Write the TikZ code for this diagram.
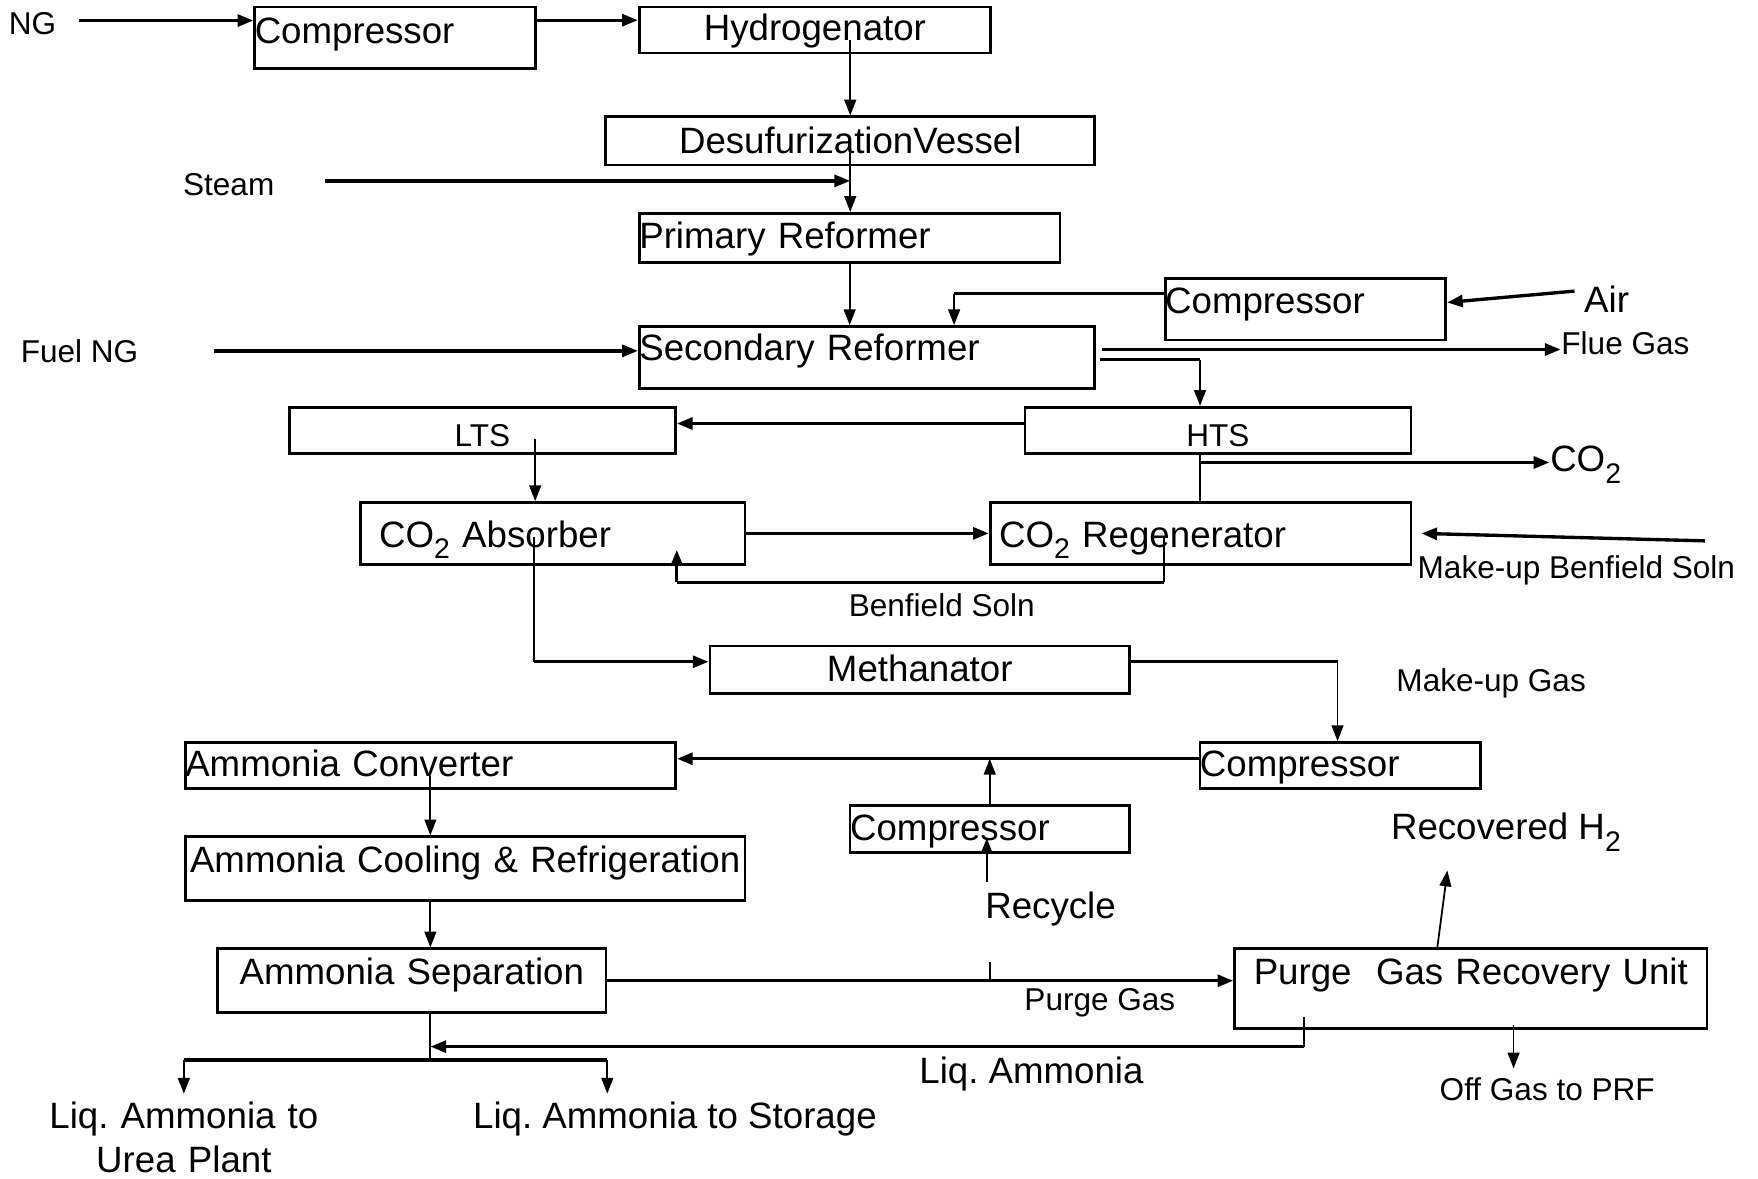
\documentclass[tikz,border=0pt]{standalone}
\usepackage{fontspec}
\setmainfont{Liberation Sans}
\usetikzlibrary{arrows.meta,calc}
\newcommand{\bigf}{\fontsize{9.3}{11.1}\selectfont}
\newcommand{\smf}{\fontsize{8}{9.6}\selectfont}
\newcommand{\subtwo}{\raisebox{-3pt}{\fontsize{7.2}{8}\selectfont 2}}
\frenchspacing
\begin{document}
\begin{tikzpicture}[x=0.01cm,y=-0.01cm,
  box/.style={draw, line width=0.7pt, inner sep=0pt, anchor=north west, font=\bigf},
  sbox/.style={box, font=\smf},
  big/.style={inner sep=0pt, font=\bigf},
  sml/.style={inner sep=0pt, font=\smf},
  tk/.style={line width=0.85pt},
  tn/.style={line width=0.45pt},
  tip/.style={-{Triangle[length=4pt,width=3pt]}}]
\useasboundingbox (0,0) rectangle (1568,1051);

% boxes
\node[box, text width=2.50cm, text height=.322cm, text depth=.228cm, align=left] (comp1) at (226,5) {Compressor};
\node[box, text width=3.13cm, text height=.297cm, text depth=.113cm, align=center] (hydro) at (569,5) {Hydrogenator};
\node[box, text width=4.36cm, text height=.325cm, text depth=.105cm, align=center] (desuf) at (539,103) {DesufurizationVessel};
\node[box, text width=3.75cm, text height=.317cm, text depth=.123cm, align=left] (primary) at (569,189) {Primary Reformer};
\node[box, text width=2.50cm, text height=.317cm, text depth=.233cm, align=left] (comp2) at (1038,247) {Compressor};
\node[box, text width=4.06cm, text height=.307cm, text depth=.243cm, align=left] (secondary) at (569,290) {Secondary Reformer};
\node[sbox, text width=3.44cm, text height=.35cm, text depth=.06cm, align=center] (lts) at (257,362) {LTS};
\node[sbox, text width=3.44cm, text height=.35cm, text depth=.06cm, align=center] (hts) at (913,362) {HTS};
\node[box, text width=3.43cm, text height=.397cm, text depth=.153cm, align=left] (absorber) at (320,447) {\hspace*{0.17cm}CO\subtwo{} Absorber};
\node[box, text width=3.75cm, text height=.397cm, text depth=.153cm, align=left] (regen) at (882,447) {\hspace*{0.08cm}CO\subtwo{} Regenerator};
\node[box, text width=3.74cm, text height=.317cm, text depth=.103cm, align=center] (meth) at (632,575) {Methanator};
\node[box, text width=2.50cm, text height=.307cm, text depth=.103cm, align=left] (comp3) at (1069,661) {Compressor};
\node[box, text width=4.37cm, text height=.307cm, text depth=.103cm, align=left] (conv) at (164,661) {Ammonia Converter};
\node[box, text width=2.49cm, text height=.317cm, text depth=.103cm, align=left] (comp4) at (757,717) {Compressor};
\node[box, text width=4.99cm, text height=.322cm, text depth=.248cm, align=center] (cooling) at (164,745) {Ammonia Cooling \& Refrigeration};
\node[box, text width=3.46cm, text height=.322cm, text depth=.248cm, align=center] (sep) at (193,845) {Ammonia Separation};
\node[box, text width=4.21cm, text height=.322cm, text depth=.388cm, align=center] (purge) at (1100,845) {Purge\ \ Gas Recovery Unit};

% labels
\node[sml, anchor=base] (ng) at (29,31) {NG};
\node[sml, anchor=base] (steam) at (204,174) {Steam};
\node[sml, anchor=base] (fuelng) at (71,323) {Fuel NG};
\node[big, anchor=base] (air) at (1433,278.5) {Air};
\node[sml, anchor=base west] (flue) at (1392,316) {Flue Gas};
\node[big, anchor=base west] (co2) at (1382,420.5) {CO\subtwo};
\node[sml, anchor=base] (mub) at (1406,516) {Make-up Benfield Soln};
\node[sml, anchor=base] (benfield) at (840,550) {Benfield Soln};
\node[sml, anchor=base] (mug) at (1330,617) {Make-up Gas};
\node[big, anchor=base west] (rech2) at (1240,748.5) {Recovered H\subtwo};
\node[big, anchor=base] (recycle) at (937,819.5) {Recycle};
\node[sml, anchor=base] (purgegas) at (981,901) {Purge Gas};
\node[big, anchor=base] (liq) at (920,966.5) {Liq. Ammonia};
\node[sml, anchor=base] (offgas) at (1380,982) {Off Gas to PRF};
\node[big, anchor=base, text width=3cm, align=center] (urea) at (164,1006.5) {Liq. Ammonia to\\Urea Plant};
\node[big, anchor=base] (storage) at (602,1006.5) {Liq. Ammonia to Storage};

% coordinates
\coordinate (ng0) at ($(ng.east)+(20,-3)$);
\coordinate (c1a) at ($(comp1.north east)+(0,13)$);
\coordinate (s0) at ($(steam.east)+(44.5,-3)$);
\coordinate (fn) at ($(fuelng.east)+(67,0)$);
\coordinate (c2a) at ($(comp2.north west)+(0,15)$);
\coordinate (c2b) at ($(secondary.north west)+(282,0)$);
\coordinate (fg) at ($(secondary.east)+(5,-7)$);
\coordinate (h0) at ($(secondary.east)+(3,2)$);
\coordinate (h1) at ($(hts.north)+(-16,0)$);
\coordinate (hl) at ($(hts.west)+(0,-6)$);
\coordinate (l0) at ($(lts.center)+(47,8)$);
\coordinate (r0) at ($(hts.south)+(-16,0)$);
\coordinate (r1) at ($(hts.south)+(-16,7)$);
\coordinate (b0) at ($(regen.west)+(156,2)$);
\coordinate (b1) at ($(absorber.south east)+(-62,15)$);
\coordinate (b2) at ($(absorber.south east)+(-62,-14)$);
\coordinate (a0) at ($(absorber.west)+(156,3)$);
\coordinate (m0) at ($(meth.west)+(0,-7)$);
\coordinate (m1) at ($(meth.east)+(0,-7)$);
\coordinate (c3t) at ($(comp3.north west)+(124,0)$);
\coordinate (mainl) at ($(comp3.west)+(0,-6)$);
\coordinate (rc0) at ($(recycle.north west)+(2,-8)$);
\coordinate (c4in) at ($(comp4.south)+(0,-14)$);
\coordinate (tk0) at (comp4.south |- sep.east);
\coordinate (split) at ($(conv.south |- sep.south)+(0,41)$);
\coordinate (drop) at ($(split)+(0,30)$);
\coordinate (lq0) at ($(purge.south west)+(63,-11)$);
\coordinate (lq1) at ($(split)+(0,-12)$);

% connectors
\draw[tk,tip] (ng0) -- (ng0 -| comp1.west);
\draw[tk,tip] (c1a) -- (c1a -| hydro.west);
\draw[tn,tip] (desuf.north |- hydro.base) -- (desuf.north);
\draw[tn,tip] (desuf.base) -- (desuf.base |- primary.north);
\draw[tk,tip] (s0) -- (s0 -| desuf.south);
\draw[tn,tip] (primary.south) -- (primary.south |- secondary.north);
\draw[tk,tip] (fn) -- (fn -| secondary.west);
\draw[tk] (c2a) -- (c2a -| c2b);
\draw[tn,tip] (c2a -| c2b) -- (c2b);
\draw[tk,tip] ($(air.west)+(-8,-7)$) -- ($(comp2.east)+(0,-6)$);
\draw[tk,tip] (fg) -- (fg -| flue.west);
\draw[tk] (h0) -- (h0 -| h1);
\draw[tn,tip] (h0 -| h1) -- (h1);
\draw[tk,tip] (hl) -- (hl -| lts.east);
\draw[tn,tip] (l0) -- (l0 |- absorber.north);
\draw[tn] (r0) -- (r0 |- regen.north);
\draw[tk,tip] (r1) -- (r1 -| co2.west);
\draw[tk,tip] (absorber.east) -- (absorber.east -| regen.west);
\draw[tk,tip] ($(mub.north east)+(-27.5,-12.5)$) -- ($(regen.east)+(8,0)$);
\draw[tn] (b0) -- (b0 |- b1);
\draw[tk] (b0 |- b1) -- (b1);
\draw[tk,tip] (b1) -- (b2);
\draw[tn] (a0) -- (a0 |- m0);
\draw[tk,tip] (a0 |- m0) -- (m0);
\draw[tk] (m1) -- (m1 -| c3t);
\draw[tn,tip] (m1 -| c3t) -- (c3t);
\draw[tk,tip] (mainl) -- (mainl -| conv.east);
\draw[tn,tip] (comp4.north) -- (comp4.north |- mainl);
\draw[tn,tip] (rc0) -- (rc0 |- c4in);
\draw[tn] (tk0) -- ($(tk0)+(0,-17)$);
\draw[tk,tip] (sep.east) -- (sep.east -| purge.west);
\draw[tn,tip] ($(purge.north west)+(182,0)$) -- ($(rech2.base west)+(51,28)$);
\draw[tn,tip] ($(purge.south west)+(250,-4)$) -- ($(offgas.base)+(-30,-29)$);
\draw[tn] (lq0) -- (lq0 |- lq1);
\draw[tk,tip] (lq0 |- lq1) -- (lq1);
\draw[tn,tip] ($(conv.south)+(0,-12)$) -- (conv.south |- cooling.north);
\draw[tn,tip] (conv.south |- cooling.south) -- (conv.south |- sep.north);
\draw[tn] (conv.south |- sep.south) -- (split);
\draw[tk] (split -| conv.west) -- (split -| sep.east);
\draw[tn,tip] (split -| conv.west) -- (drop -| conv.west);
\draw[tn,tip] (split -| sep.east) -- (drop -| sep.east);
\end{tikzpicture}
\end{document}
